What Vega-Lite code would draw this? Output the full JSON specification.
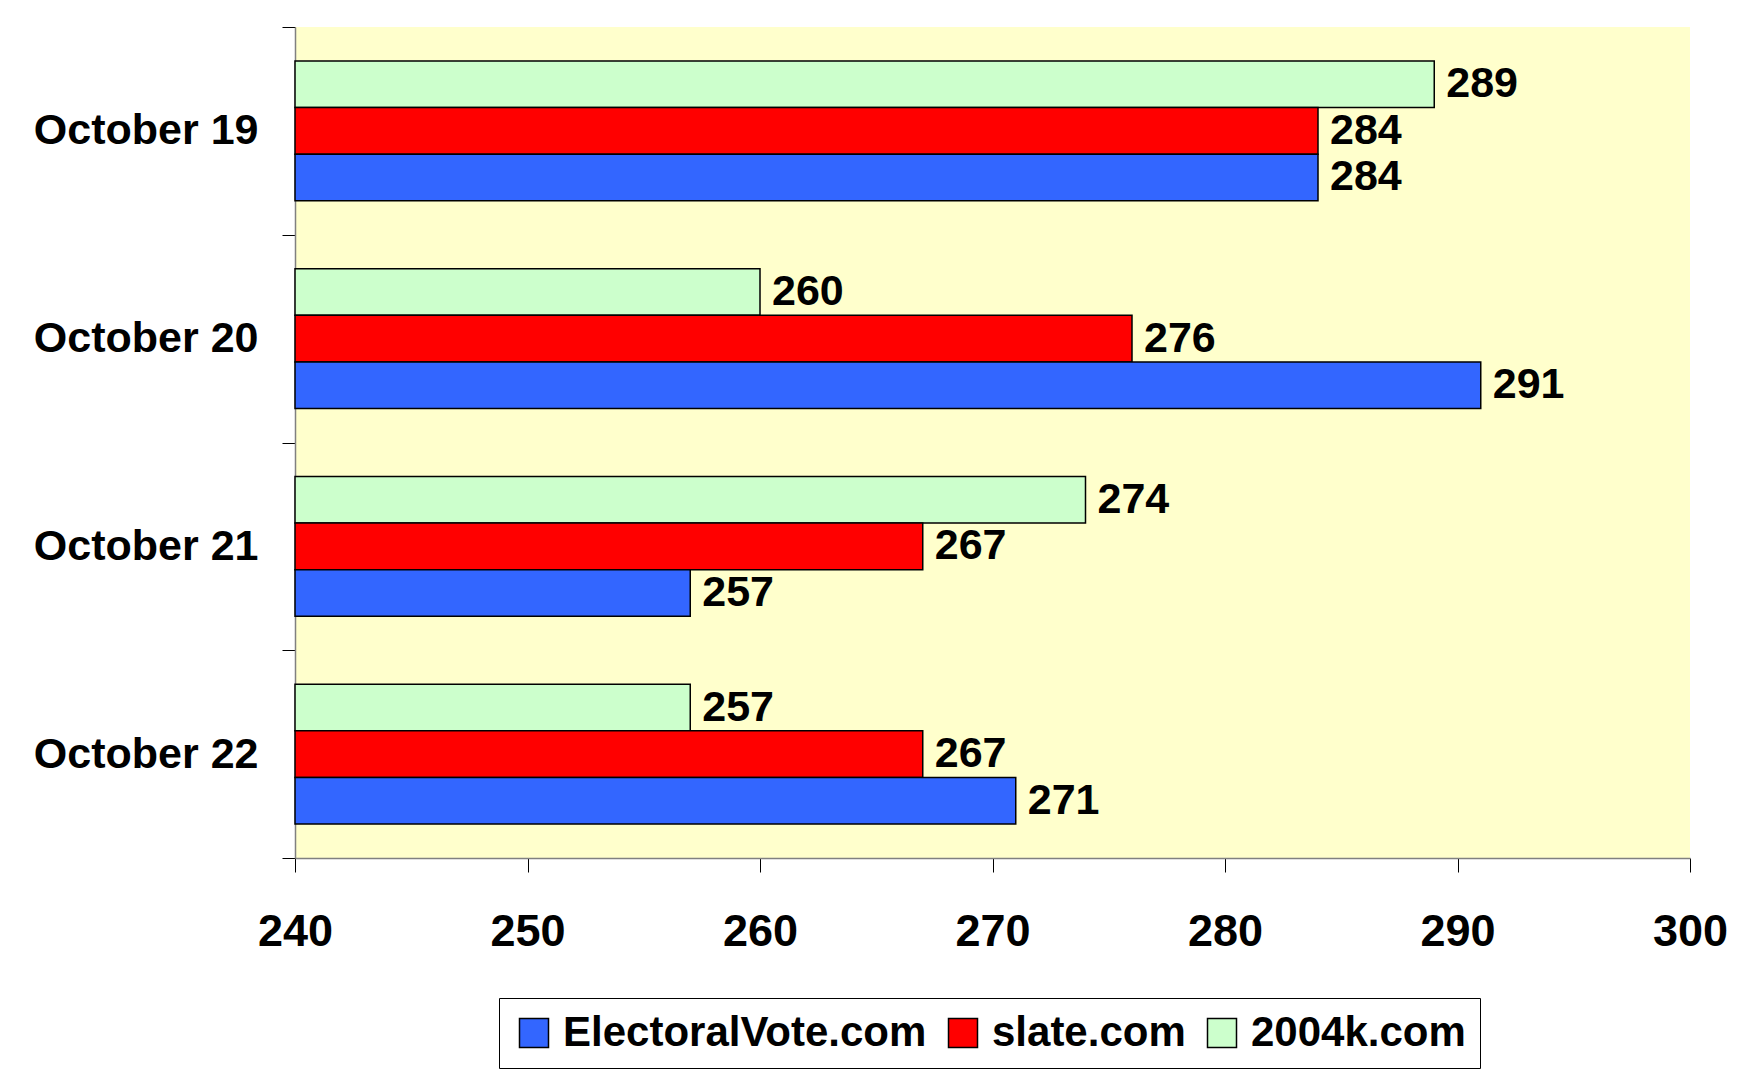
{
  "$schema": "https://vega.github.io/schema/vega-lite/v6.json",
  "width": 1395,
  "height": 831,
  "autosize": {"type": "none"},
  "padding": {"left": 295, "top": 27, "right": 66, "bottom": 222},
  "background": "white",
  "config": {
    "view": {"fill": "#FFFFCC", "stroke": null},
    "font": "Liberation Sans"
  },
  "data": {
    "values": [
      {"date": "October 19", "source": "2004k.com", "votes": 289},
      {"date": "October 19", "source": "slate.com", "votes": 284},
      {"date": "October 19", "source": "ElectoralVote.com", "votes": 284},
      {"date": "October 20", "source": "2004k.com", "votes": 260},
      {"date": "October 20", "source": "slate.com", "votes": 276},
      {"date": "October 20", "source": "ElectoralVote.com", "votes": 291},
      {"date": "October 21", "source": "2004k.com", "votes": 274},
      {"date": "October 21", "source": "slate.com", "votes": 267},
      {"date": "October 21", "source": "ElectoralVote.com", "votes": 257},
      {"date": "October 22", "source": "2004k.com", "votes": 257},
      {"date": "October 22", "source": "slate.com", "votes": 267},
      {"date": "October 22", "source": "ElectoralVote.com", "votes": 271}
    ]
  },
  "encoding": {
    "y": {
      "field": "date",
      "type": "nominal",
      "sort": ["October 19", "October 20", "October 21", "October 22"],
      "scale": {"paddingInner": 0, "paddingOuter": 0},
      "axis": {
        "title": null,
        "tickBand": "extent",
        "tickSize": 13,
        "tickColor": "#000000",
        "tickWidth": 1,
        "domainColor": "#808080",
        "domainWidth": 1.5,
        "labelFont": "Liberation Sans",
        "labelFontSize": 43,
        "labelFontWeight": "bold",
        "labelColor": "#000000",
        "labelPadding": 24,
        "labelLimit": 400
      }
    },
    "yOffset": {
      "field": "source",
      "type": "nominal",
      "sort": ["2004k.com", "slate.com", "ElectoralVote.com"],
      "scale": {"paddingInner": 0, "paddingOuter": 0.729}
    },
    "x": {
      "field": "votes",
      "type": "quantitative",
      "scale": {"domain": [240, 300], "zero": false, "nice": false},
      "axis": {
        "title": null,
        "values": [240, 250, 260, 270, 280, 290, 300],
        "grid": false,
        "tickSize": 14,
        "tickColor": "#000000",
        "tickWidth": 1,
        "domainColor": "#808080",
        "domainWidth": 1.5,
        "labelFont": "Liberation Sans",
        "labelFontSize": 45,
        "labelFontWeight": "bold",
        "labelColor": "#000000",
        "labelPadding": 37,
        "labelFlush": false,
        "labelOverlap": false
      }
    }
  },
  "layer": [
    {
      "mark": {"type": "bar", "stroke": "#000000", "strokeWidth": 1.5},
      "encoding": {
        "x2": {"datum": 240},
        "color": {
          "field": "source",
          "type": "nominal",
          "scale": {
            "domain": ["ElectoralVote.com", "slate.com", "2004k.com"],
            "range": ["#3366FF", "#FF0000", "#CCFFCC"]
          },
          "legend": {
            "title": null,
            "orient": "none",
            "legendX": 204,
            "legendY": 971,
            "direction": "horizontal",
            "columns": 3,
            "fillColor": "#FFFFFF",
            "strokeColor": "#000000",
            "padding": 14,
            "symbolType": "square",
            "symbolSize": 841,
            "symbolStrokeColor": "#000000",
            "symbolStrokeWidth": 1.5,
            "symbolOpacity": 1,
            "labelFont": "Liberation Sans",
            "labelFontSize": 42,
            "labelFontWeight": "bold",
            "labelColor": "#000000",
            "labelOffset": 8,
            "labelLimit": 500,
            "columnPadding": 15
          }
        }
      }
    },
    {
      "mark": {
        "type": "text",
        "align": "left",
        "baseline": "middle",
        "dx": 12,
        "font": "Liberation Sans",
        "fontSize": 43,
        "fontWeight": "bold",
        "color": "#000000"
      },
      "encoding": {
        "text": {"field": "votes", "type": "quantitative"}
      }
    }
  ]
}
